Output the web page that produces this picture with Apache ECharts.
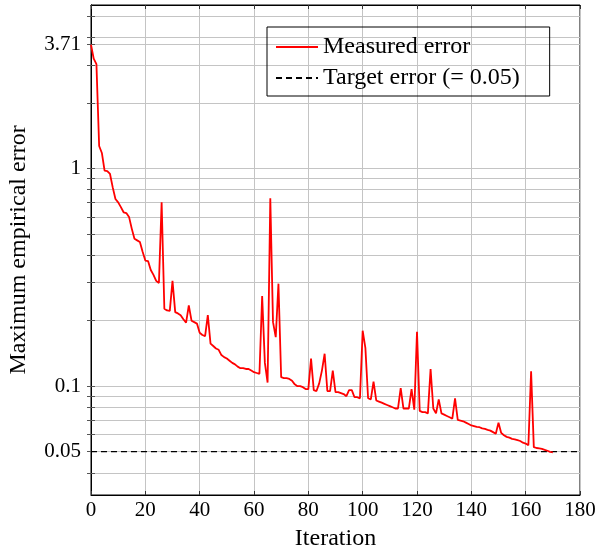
<!DOCTYPE html>
<html>
<head>
<meta charset="utf-8">
<script src="https://cdn.jsdelivr.net/npm/echarts@6/dist/echarts.min.js"></script>
<style>
html,body{margin:0;padding:0;background:#fff;}
#chart{width:598px;height:552px;}
</style>
</head>
<body>
<div id="chart"></div>
<script>
// Measured maximum empirical error per iteration (0..170)
const measuredError = [
  3.71, 3.2, 3.02, 1.27, 1.18, 0.98, 0.975, 0.945, 0.82, 0.725,
  0.70, 0.665, 0.63, 0.625, 0.60, 0.53, 0.476, 0.468, 0.46, 0.415,
  0.378, 0.376, 0.342, 0.325, 0.305, 0.298, 0.70, 0.227, 0.223, 0.222,
  0.305, 0.219, 0.216, 0.212, 0.203, 0.196, 0.235, 0.200, 0.197, 0.194,
  0.176, 0.172, 0.170, 0.212, 0.157, 0.153, 0.149, 0.147, 0.139, 0.136,
  0.134, 0.131, 0.128, 0.126, 0.123, 0.121, 0.121, 0.120, 0.120, 0.118,
  0.116, 0.115, 0.114, 0.26, 0.128, 0.104, 0.73, 0.197, 0.168, 0.296,
  0.110, 0.109, 0.109, 0.108, 0.106, 0.102, 0.100, 0.100, 0.099, 0.097,
  0.097, 0.134, 0.096, 0.095, 0.103, 0.118, 0.141, 0.095, 0.095, 0.118,
  0.094, 0.094, 0.093, 0.092, 0.090, 0.096, 0.096, 0.089, 0.089, 0.088,
  0.180, 0.150, 0.088, 0.087, 0.105, 0.086, 0.085, 0.084, 0.083, 0.082,
  0.081, 0.080, 0.079, 0.079, 0.098, 0.079, 0.079, 0.079, 0.097, 0.078,
  0.178, 0.077, 0.076, 0.076, 0.075, 0.12, 0.079, 0.075, 0.087, 0.075,
  0.074, 0.073, 0.072, 0.071, 0.088, 0.070, 0.0695, 0.069, 0.068, 0.067,
  0.066, 0.0655, 0.065, 0.0648, 0.064, 0.0636, 0.063, 0.0625, 0.0615, 0.0605,
  0.068, 0.061, 0.0595, 0.0585, 0.058, 0.0573, 0.057, 0.0565, 0.056, 0.055,
  0.0545, 0.0535, 0.117, 0.0525, 0.052, 0.0518, 0.0515, 0.051, 0.0505, 0.0499,
  0.0497
];
const iterations = measuredError.map((_, i) => i);
const targetError = 0.05;
const targetX = [0, 180];
const yTickLabels = [0.05, 0.1, 1, 3.71];
const yGridValues = [0.04, 0.05, 0.06, 0.07, 0.08, 0.09, 0.1, 0.2, 0.3, 0.4, 0.5, 0.6, 0.7, 0.8, 0.9, 1, 2, 3, 3.71, 4, 5];
const xRange = [0, 180];
const xInterval = 20;
const yRange = [Math.pow(10, -1.5), Math.pow(10, 0.752)];

const FONT = '"Liberation Serif", "DejaVu Serif", serif';
const chart = echarts.init(document.getElementById('chart'), null, {renderer: 'canvas'});

const gridColor = '#c4c4c4';
const option = {
  backgroundColor: '#fff',
  animation: false,
  grid: {left: 91, right: 18, top: 5, bottom: 57, containLabel: false, outerBoundsMode: 'none',
    show: true, borderColor: '#000', borderWidth: 1, backgroundColor: 'transparent'},
  legend: {
    left: 267, top: 27,
    orient: 'vertical',
    borderColor: '#000', borderWidth: 1, borderRadius: 0,
    padding: [8, 30, 6, 8],
    itemGap: 7,
    itemWidth: 42, itemHeight: 14,
    itemStyle: {opacity: 0},
    textStyle: {fontFamily: FONT, fontSize: 24, color: '#000'},
    data: ['Measured error', 'Target error (= 0.05)']
  },
  xAxis: [{
    type: 'value', min: xRange[0], max: xRange[1], interval: xInterval,
    name: 'Iteration', nameLocation: 'middle', nameGap: 32,
    nameTextStyle: {fontFamily: FONT, fontSize: 24, color: '#000'},
    axisLine: {show: true, lineStyle: {color: '#000', width: 1}},
    axisTick: {show: true, inside: true, length: 4, lineStyle: {color: '#333'}},
    axisLabel: {fontFamily: FONT, fontSize: 21, color: '#000', margin: 5},
    splitLine: {show: true, lineStyle: {color: gridColor, width: 1}}
  }, {
    type: 'value', position: 'top', min: xRange[0], max: xRange[1], interval: xInterval,
    axisLine: {show: true, lineStyle: {color: '#000'}},
    axisTick: {show: true, inside: true, length: 4, lineStyle: {color: '#333'}},
    axisLabel: {show: false},
    splitLine: {show: false}
  }],
  yAxis: [{
    type: 'log', logBase: 10, min: yRange[0], max: yRange[1],
    name: 'Maximum empirical error', nameLocation: 'middle', nameGap: 60,
    nameTextStyle: {fontFamily: FONT, fontSize: 24, color: '#000'},
    axisLine: {show: true, lineStyle: {color: '#000'}},
    axisTick: {show: true, inside: true, length: 4, customValues: yGridValues, lineStyle: {color: '#555'}},
    axisLabel: {fontFamily: FONT, fontSize: 21, color: '#000', margin: 10, customValues: yTickLabels,
      formatter: v => String(+(+v).toPrecision(3))},
    splitLine: {show: true, lineStyle: {color: gridColor, width: 1}},
    minorTick: {show: false}, minorSplitLine: {show: false}
  }, {
    type: 'log', logBase: 10, min: yRange[0], max: yRange[1], position: 'right',
    axisLine: {show: true, lineStyle: {color: '#000'}},
    axisTick: {show: true, inside: true, length: 4, customValues: yGridValues, lineStyle: {color: '#555'}},
    axisLabel: {show: false},
    splitLine: {show: false}
  }],
  series: [{
    name: 'Target error (= 0.05)',
    type: 'line',
    data: targetX.map(x => [x, targetError]),
    showSymbol: false, symbol: 'none',
    lineStyle: {color: '#000', width: 1.2, type: [6, 4]},
    itemStyle: {color: '#000'},
    z: 3
  }, {
    name: 'Measured error',
    type: 'line',
    data: iterations.map((x, i) => [x, measuredError[i]]),
    showSymbol: false, symbol: 'none',
    lineStyle: {color: '#ff0000', width: 1.8},
    itemStyle: {color: '#ff0000'},
    z: 4
  }]
};
chart.setOption(option);
</script>
</body>
</html>
